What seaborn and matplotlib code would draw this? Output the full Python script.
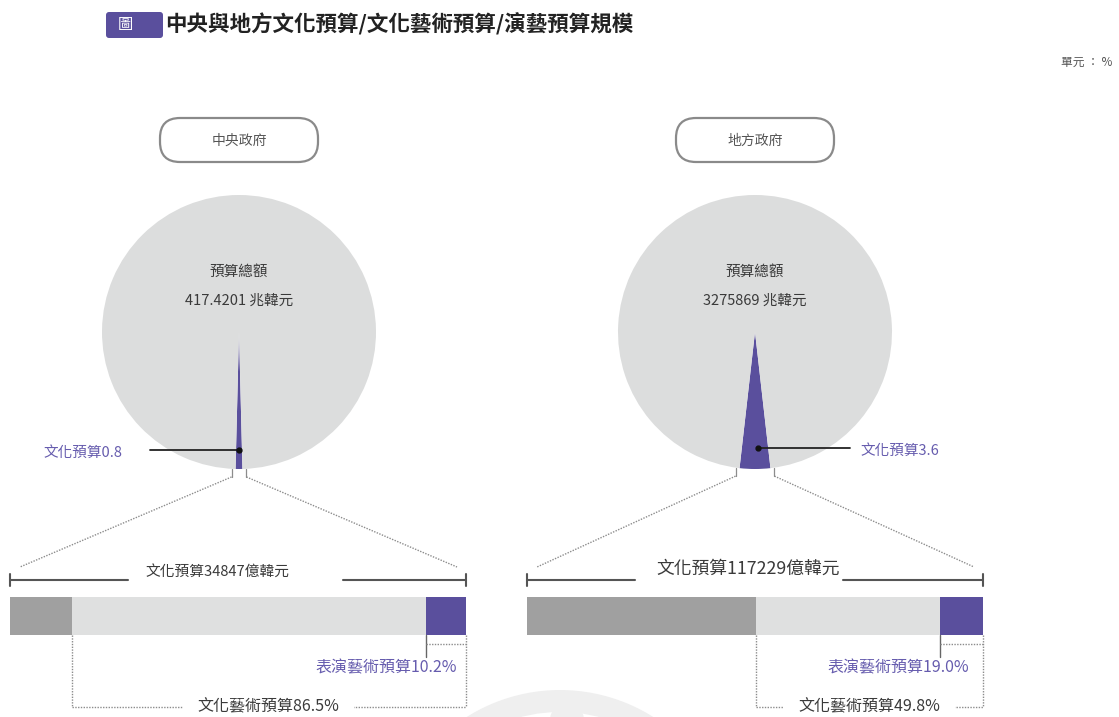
import matplotlib
matplotlib.use("Agg")
import matplotlib.pyplot as plt
from matplotlib.patches import FancyBboxPatch, Wedge, Circle
from matplotlib.transforms import blended_transform_factory
import numpy as np
import seaborn as sns

# ---- data ----
panels = ["中央政府", "地方政府"]
total_budget = ["417.4201", "3275869"]          # 兆韓元
culture_share = [0.8, 3.6]                      # % of total budget
culture_budget = [34847, 117229]                # 億韓元
arts_share = [86.5, 49.8]                       # % of culture budget
perf_share = [10.2, 19.0]                       # % of culture-arts budget

# ---- style ----
sns.set_theme(style="white")
plt.rcParams["font.family"] = ["Noto Sans CJK TC", "DejaVu Sans"]

PURPLE = "#5a4f9d"
LABEL_PURPLE = "#665cae"
PIE_GRAY = "#dcdddd"
DARK_BAR = "#a0a0a0"
LIGHT_BAR = "#dfe0e0"
TEXT = "#3a3a3a"
DOT = "#8c8c8c"

W, H = 1119, 717
fig = plt.figure(figsize=(W / 100, H / 100), dpi=100)
fig.patch.set_facecolor("white")


def px_axes(x0, y0, x1, y1, **kw):
    return fig.add_axes([x0 / W, 1 - y1 / H, (x1 - x0) / W, (y1 - y0) / H], **kw)


# overlay in pixel coordinates for frames, titles and brackets
over = px_axes(0, 0, W, H, zorder=5)
over.set_xlim(0, W)
over.set_ylim(H, 0)
over.axis("off")

# faint emblem at the bottom
over.add_patch(Wedge((560, 865), 175, 0, 360, width=22, facecolor="#efefef",
                     edgecolor="none", zorder=0))
over.add_patch(Circle((567, 720), 17, facecolor="#efefef", edgecolor="none", zorder=0))

# title
over.add_patch(FancyBboxPatch((106, 12), 57, 26, boxstyle="round,pad=0,rounding_size=3",
                              facecolor=PURPLE, edgecolor="none"))
over.text(125, 24.5, "圖", color="white", fontsize=11, ha="center", va="center")
over.text(165, 24.5, "中央與地方文化預算/文化藝術預算/演藝預算規模", color="#222222",
          fontsize=15.5, fontweight="bold", ha="left", va="center")
over.text(1112, 62, "單元 ： %", color="#555555", fontsize=8.5, ha="right", va="center")

PIE_CX = [239, 755]
PIE_CY = 332
R = 137
BAR_X0 = [10, 527]
BAR_W = 456
BAR_TOP, BAR_BOT = 597, 635

for i in range(2):
    cx = PIE_CX[i]
    share = culture_share[i]

    # panel header
    over.add_patch(FancyBboxPatch((cx - 79, 118), 158, 44,
                                  boxstyle="round,pad=0,rounding_size=20",
                                  facecolor="white", edgecolor="#8a8a8a", linewidth=1.6))
    over.text(cx, 141, panels[i], color="#555555", fontsize=10, ha="center", va="center")

    # pie of total budget with culture slice pointing down
    pax = px_axes(cx - R, PIE_CY - R, cx + R, PIE_CY + R, zorder=1)
    pax.pie([share, 100 - share], colors=[PURPLE, PIE_GRAY],
            startangle=270 - share * 3.6 / 2, counterclock=True, radius=1,
            wedgeprops=dict(linewidth=0))
    pax.set_xlim(-1, 1)
    pax.set_ylim(-1, 1)
    pax.set_aspect("equal")
    pax.axis("off")
    pax.text(0, 0.44, "預算總額", color=TEXT, fontsize=10.5, ha="center", va="center")
    pax.text(0, 0.23, f"{total_budget[i]} 兆韓元", color=TEXT, fontsize=10.5,
             ha="center", va="center")

    # leader line to culture slice label
    if i == 0:
        pax.plot([0, -0.65], [-0.86, -0.86], color="#222222", lw=1.3, clip_on=False)
        pax.text(-0.855, -0.88, f"文化預算{share}", color=LABEL_PURPLE, fontsize=10.5,
                 ha="right", va="center")
    else:
        pax.plot([0.02, 0.69], [-0.85, -0.85], color="#222222", lw=1.3, clip_on=False)
        pax.text(0.77, -0.87, f"文化預算{share}", color=LABEL_PURPLE, fontsize=10.5,
                 ha="left", va="center")
    pax.plot([0 if i == 0 else 0.02], [-0.86 if i == 0 else -0.85], "o",
             color="#111111", ms=3.5, clip_on=False)

    # dotted connectors from slice to the bar below
    half = np.radians(share * 1.8)
    by = PIE_CY + R * np.cos(half) + 6
    lx = cx - R * np.sin(half) - 4
    rx = cx + R * np.sin(half) + 4
    over.plot([lx, lx], [by - 6, by + 2], color=DOT, lw=0.9)
    over.plot([rx, rx], [by - 6, by + 2], color=DOT, lw=0.9)
    over.plot([lx, BAR_X0[i] + 10], [by + 2, 567], color=DOT, lw=1, ls=(0, (1, 1)))
    over.plot([rx, BAR_X0[i] + BAR_W - 9], [by + 2, 567], color=DOT, lw=1, ls=(0, (1, 1)))

    # stacked bar of the culture budget
    bax = px_axes(BAR_X0[i], BAR_TOP, BAR_X0[i] + BAR_W, BAR_BOT, zorder=2)
    arts = arts_share[i]
    perf = perf_share[i]
    perf_total = arts * perf / 100
    for val, col in [(100, PURPLE), (100 - perf_total, LIGHT_BAR), (100 - arts, DARK_BAR)]:
        sns.barplot(x=[val], y=["文化預算"], color=col, saturation=1, width=1,
                    linewidth=0, orient="h", ax=bax)
    bax.set_xlim(0, 100)
    bax.set_ylim(0.5, -0.5)
    bax.axis("off")

    tr = blended_transform_factory(bax.transData, over.transData)

    # overall bracket above the bar
    gap = [(25.9, 73.0), (23.7, 69.3)][i]
    tx = [45.5, 48.5][i]
    over.plot([0, gap[0]], [580, 580], transform=tr, color="#555555", lw=1.5)
    over.plot([gap[1], 100], [580, 580], transform=tr, color="#555555", lw=1.5)
    for xe in (0, 100):
        over.plot([xe, xe], [574, 586], transform=tr, color="#555555", lw=1.5)
    over.text(tx, [572, 569][i], f"文化預算{culture_budget[i]}億韓元", transform=tr,
              color=TEXT, fontsize=[10.6, 12.8][i], ha="center", va="center")

    # performing-arts bracket
    p0 = 100 - perf_total
    over.plot([p0, p0], [BAR_BOT, 657], transform=tr, color="#666666", lw=1)
    over.plot([p0, 100], [644, 644], transform=tr, color=DOT, lw=1, ls=(0, (1, 1)))
    over.text([98, 96.9][i], 668, f"表演藝術預算{perf}%", transform=tr,
              color=LABEL_PURPLE, fontsize=11.5, ha="right", va="center")

    # culture-arts bracket
    a0 = 100 - arts
    over.plot([a0, a0], [BAR_BOT, 707], transform=tr, color=DOT, lw=1, ls=(0, (1, 1)))
    over.plot([100, 100], [BAR_BOT, 707], transform=tr, color=DOT, lw=1, ls=(0, (1, 1)))
    over.plot([a0, 100], [707, 707], transform=tr, color=DOT, lw=1, ls=(0, (1, 1)))
    over.text((a0 + 100) / 2, 707, f"文化藝術預算{arts}%", transform=tr, color=TEXT,
              fontsize=11.5, ha="center", va="center",
              bbox=dict(boxstyle="square,pad=0.9", facecolor="white", edgecolor="none"))

fig.savefig("out.png", dpi=100, facecolor="white")
